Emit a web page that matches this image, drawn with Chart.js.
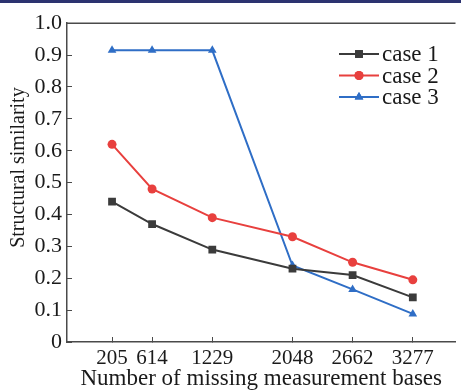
<!DOCTYPE html>
<html>
<head>
<meta charset="utf-8">
<script src="https://cdn.jsdelivr.net/npm/chart.js@4.4.1/dist/chart.umd.min.js"></script>
<style>
  body { margin: 0; background: #fff; }
  #wrap { position: relative; width: 461px; height: 390px; }
  #topbar { position: absolute; left: 0; top: 0; width: 461px; height: 3px; background: #2c3370; }
</style>
</head>
<body>
<div id="wrap">
  <canvas id="chart" width="461" height="390"></canvas>
  <div id="topbar"></div>
</div>
<script>
// values
const missingBases = [205, 614, 1229, 2048, 2662, 3277];
const case1 = [0.44, 0.37, 0.29, 0.23, 0.21, 0.14];
const case2 = [0.62, 0.48, 0.39, 0.33, 0.25, 0.195];
const case3 = [0.915, 0.915, 0.915, 0.24, 0.165, 0.088];
const seriesNames = ['case 1', 'case 2', 'case 3'];
const yTicks = [0, 0.1, 0.2, 0.3, 0.4, 0.5, 0.6, 0.7, 0.8, 0.9, 1.0];

const FONT = "'Liberation Serif', 'Times New Roman', serif";
const colors = ['#3b3b3b', '#e8403e', '#2f6ec6'];
const styles = ['rect', 'circle', 'triangle'];
const radii = [5.5, 4.5, 5];

function pts(arr) {
    return missingBases.map((x, i) => ({ x: x, y: arr[i] }));
}

// top frame line + legend drawn in the plot
const framePlugin = {
    id: 'frame',
    afterDraw(chart) {
        const ctx = chart.ctx;
        const a = chart.chartArea;
        ctx.save();
        ctx.strokeStyle = '#4a4a4a';
        ctx.lineWidth = 1.5;
        ctx.beginPath();
        ctx.moveTo(a.left, a.top);
        ctx.lineTo(a.right, a.top);
        ctx.stroke();

        // legend
        ctx.font = '23px ' + FONT;
        ctx.textBaseline = 'middle';
        ctx.textAlign = 'left';
        seriesNames.forEach((name, i) => {
            const y = 54 + i * 21.5;
            ctx.strokeStyle = colors[i];
            ctx.lineWidth = 2;
            ctx.beginPath();
            ctx.moveTo(339, y);
            ctx.lineTo(379, y);
            ctx.stroke();
            ctx.fillStyle = colors[i];
            Chart.helpers.drawPoint(ctx, {
                pointStyle: styles[i], radius: radii[i], rotation: 0, borderWidth: 0
            }, 359, y);
            ctx.fill();
            ctx.fillStyle = '#1a1a1a';
            ctx.fillText(name, 382, y + 1);
        });
        ctx.restore();
    }
};

new Chart(document.getElementById('chart'), {
    type: 'line',
    data: {
        datasets: [case1, case2, case3].map((arr, i) => ({
            label: seriesNames[i],
            data: pts(arr),
            borderColor: colors[i],
            backgroundColor: colors[i],
            borderWidth: 2,
            pointStyle: styles[i],
            pointRadius: radii[i],
            pointBorderWidth: 0,
            tension: 0,
            fill: false
        }))
    },
    options: {
        responsive: false,
        animation: false,
        layout: { padding: { top: 22, left: 0, right: 0, bottom: 0 } },
        plugins: {
            legend: { display: false },
            tooltip: { enabled: false }
        },
        scales: {
            x: {
                type: 'linear',
                min: -255,
                max: 3713,
                afterBuildTicks: s => { s.ticks = missingBases.map(v => ({ value: v })); },
                afterFit: s => { s.height = 48; },
                border: { display: true, color: '#4a4a4a', width: 1.5 },
                grid: { drawOnChartArea: false, drawTicks: true, tickLength: -5, color: '#4a4a4a', lineWidth: 1 },
                ticks: {
                    autoSkip: false,
                    maxRotation: 0,
                    padding: 9,
                    color: '#1a1a1a',
                    font: { family: FONT, size: 21 },
                    callback: v => String(v)
                },
                title: {
                    display: true,
                    text: 'Number of missing measurement bases',
                    color: '#1a1a1a',
                    font: { family: FONT, size: 23, lineHeight: 1.0 },
                    padding: { top: 0, bottom: 0 }
                }
            },
            y: {
                min: 0,
                max: 1,
                afterBuildTicks: s => { s.ticks = yTicks.map(v => ({ value: v })); },
                afterFit: s => { s.width = 67; },
                border: { display: true, color: '#4a4a4a', width: 1.5 },
                grid: { drawOnChartArea: false, drawTicks: true, tickLength: -5, color: '#4a4a4a', lineWidth: 1 },
                ticks: {
                    padding: 10,
                    color: '#1a1a1a',
                    font: { family: FONT, size: 22 },
                    callback: v => (v === 0 ? '0' : v.toFixed(1))
                },
                title: {
                    display: true,
                    text: '      Structural similarity',
                    color: '#1a1a1a',
                    font: { family: FONT, size: 20 },
                    padding: { top: 7, bottom: 0 }
                }
            }
        }
    },
    plugins: [framePlugin]
});
</script>
</body>
</html>
